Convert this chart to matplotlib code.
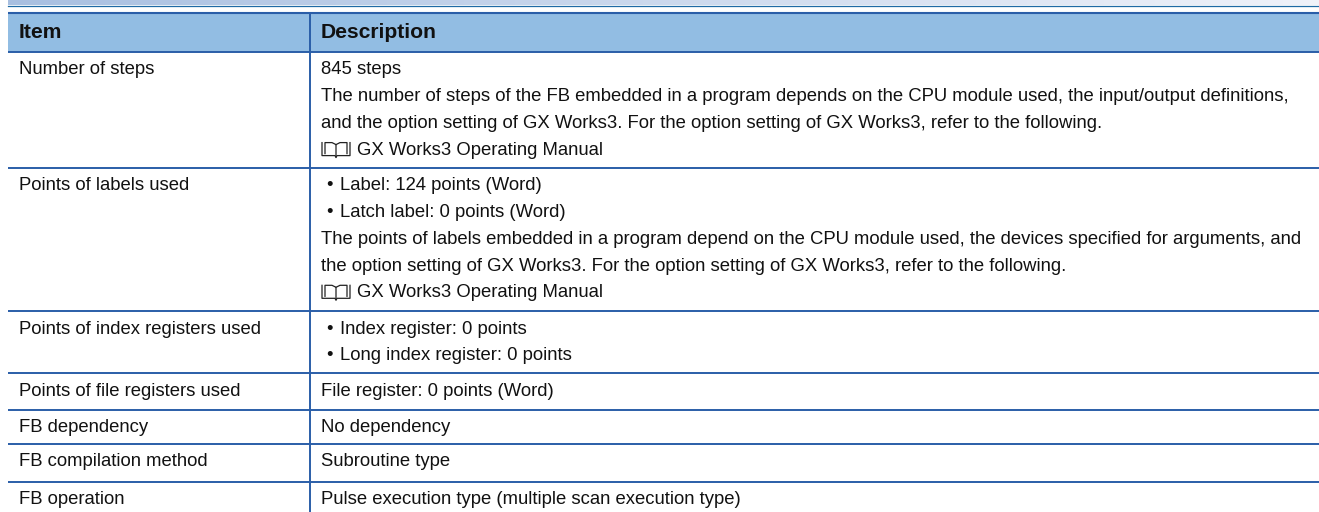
import numpy as np
import matplotlib
matplotlib.use('Agg')
import matplotlib.pyplot as plt

plt.rcParams['font.family'] = ['Liberation Sans', 'DejaVu Sans']

W, H = 1319, 512

# table contents
headers = ['Item', 'Description']
items = ['Number of steps', 'Points of labels used', 'Points of index registers used',
         'Points of file registers used', 'FB dependency', 'FB compilation method', 'FB operation']
descriptions = [
    ['845 steps',
     'The number of steps of the FB embedded in a program depends on the CPU module used, the input/output definitions,',
     'and the option setting of GX Works3. For the option setting of GX Works3, refer to the following.',
     '@GX Works3 Operating Manual'],
    ['*Label: 124 points (Word)',
     '*Latch label: 0 points (Word)',
     'The points of labels embedded in a program depend on the CPU module used, the devices specified for arguments, and',
     'the option setting of GX Works3. For the option setting of GX Works3, refer to the following.',
     '@GX Works3 Operating Manual'],
    ['*Index register: 0 points', '*Long index register: 0 points'],
    ['File register: 0 points (Word)'],
    ['No dependency'],
    ['Subroutine type'],
    ['Pulse execution type (multiple scan execution type)'],
]
row_lines = [52, 168, 311, 373, 409.5, 444, 482]

BLUE = '#2a5ea8'
FS = 13.37
FS_HEAD = 15.2
LH = 26.7
TXT = '#111111'

fig = plt.figure(figsize=(W / 100, H / 100), dpi=100)
ax = fig.add_axes([0, 0, 1, 1])

# gradient band over the table
grad = np.linspace(0, 1, 256).reshape(1, -1, 1)
c0 = np.array([0.66, 0.75, 0.88])
c1 = np.array([0.94, 0.95, 0.98])
ax.imshow(c0 + (c1 - c0) * grad, extent=[8, W, 5, 0], aspect='auto', zorder=0)
ax.set_xlim(0, W)
ax.set_ylim(H, 0)
ax.axis('off')
ax.plot([8, W], [5.7, 5.7], color='#1f6aa5', lw=0.9, zorder=1)

# header
ax.fill_between([8, W], 13, 52, color='#92bde3', lw=0, zorder=1)
ax.plot([8, W], [13.3, 13.3], color=BLUE, lw=1.5, zorder=2, solid_capstyle='butt')
for y in row_lines:
    ax.plot([8, W], [y, y], color=BLUE, lw=1.4, zorder=2, solid_capstyle='butt')
ax.plot([310, 310], [13, H], color=BLUE, lw=1.4, zorder=2, solid_capstyle='butt')

ax.text(19, 32.5, headers[0], fontsize=FS_HEAD, fontweight='bold', va='center', color=TXT)
ax.text(321, 32.5, headers[1], fontsize=FS_HEAD, fontweight='bold', va='center', color=TXT)


def book_icon(x, y):
    # little open book in front of the manual reference
    ax.plot([x, x, x + 13, x + 14, x + 15, x + 28, x + 28], [y - 7, y + 6, y + 6, y + 8, y + 6, y + 6, y - 7],
            color='#222222', lw=0.9)
    ax.plot([x + 3, x + 3, x + 10, x + 14, x + 14], [y + 4, y - 7, y - 7, y - 5, y + 7], color='#222222', lw=0.9)
    ax.plot([x + 25, x + 25, x + 18, x + 14], [y + 4, y - 7, y - 7, y - 5], color='#222222', lw=0.9)


for top, item, lines in zip(row_lines, items, descriptions):
    ax.text(19, top + 18, item, fontsize=FS, va='center', color=TXT)
    for i, line in enumerate(lines):
        y = top + 18 + i * LH
        if line.startswith('@'):
            book_icon(322, y - 0.5)
            ax.text(357, y, line[1:], fontsize=FS, va='center', color=TXT)
        elif line.startswith('*'):
            ax.text(326, y, '\u2022', fontsize=FS, va='center', color=TXT)
            ax.text(340, y, line[1:], fontsize=FS, va='center', color=TXT)
        else:
            ax.text(321, y, line, fontsize=FS, va='center', color=TXT)

fig.savefig('out.png', dpi=100)
